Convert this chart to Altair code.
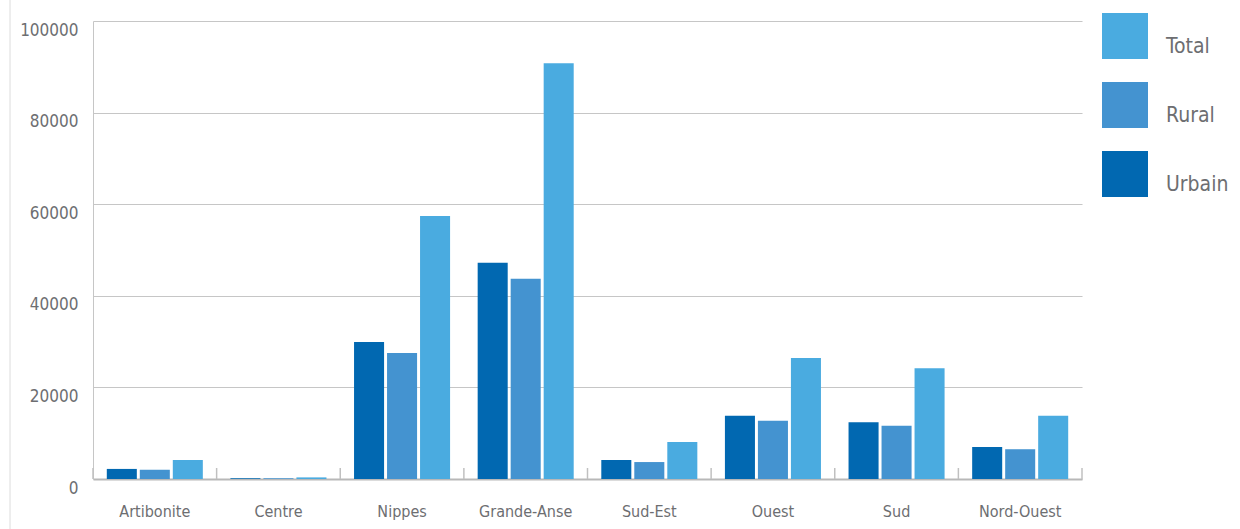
import altair as alt
import pandas as pd

# Departments shown along the x axis
departements = ["Artibonite", "Centre", "Nippes", "Grande-Anse",
                "Sud-Est", "Ouest", "Sud", "Nord-Ouest"]

# Values per department for each series
urbain = [2200, 150, 29900, 47200, 4150, 13800, 12400, 7000]
rural = [2000, 150, 27500, 43700, 3700, 12700, 11600, 6500]
total = [4150, 350, 57400, 90800, 8100, 26400, 24200, 13800]

series = ["Urbain", "Rural", "Total"]
colors = ["#0168B1", "#4493D0", "#4AABE0"]
y_ticks = [0, 20000, 40000, 60000, 80000, 100000]

FONT = "DejaVu Sans Condensed, Liberation Sans Narrow, sans-serif"
TEXT = "#6d6e71"
W, H = 989, 458

rows = []
for name, vals in zip(series, [urbain, rural, total]):
    for d, v in zip(departements, vals):
        rows.append({"departement": d, "serie": name, "valeur": v})
df = pd.DataFrame(rows)

x_scale = alt.Scale(domain=departements, paddingInner=0, paddingOuter=0)
x_axis = alt.Axis(title=None, labelAngle=0, ticks=False, grid=False,
                  domain=True, domainColor="#b8b8b8", domainWidth=2,
                  labelFont=FONT, labelFontSize=16, labelColor=TEXT,
                  labelPadding=24)

bars = alt.Chart(df).mark_bar().encode(
    x=alt.X("departement:N", scale=x_scale, sort=departements, axis=x_axis),
    xOffset=alt.XOffset("serie:N", sort=series,
                        scale=alt.Scale(domain=series, paddingInner=0.09,
                                        paddingOuter=0.418)),
    y=alt.Y("valeur:Q",
            scale=alt.Scale(domain=[0, 100000], nice=False),
            axis=alt.Axis(title=None, values=y_ticks, format="d",
                          ticks=False, domain=True, domainColor="#c6c6c6",
                          grid=True, gridColor="#c6c6c6", gridWidth=1.2,
                          labelFont=FONT, labelFontSize=17, labelColor=TEXT,
                          labelPadding=15, labelOffset=9)),
    color=alt.Color("serie:N",
                    scale=alt.Scale(domain=series, range=colors),
                    legend=alt.Legend(title=None, values=["Total", "Rural", "Urbain"],
                                      orient="none", legendX=1009, legendY=-8,
                                      symbolType="square", symbolSize=2116,
                                      symbolStrokeWidth=0, symbolOpacity=1,
                                      rowPadding=23, padding=0,
                                      labelFont=FONT, labelFontSize=21,
                                      labelBaseline="top",
                                      labelColor=TEXT, labelOffset=18)),
)

# Separators at the start of each department group, rising from the baseline
sep_df = pd.DataFrame({"departement": departements})
seps = alt.Chart(sep_df).mark_rule(color="#c0c0c0", strokeWidth=1.5).encode(
    x=alt.X("departement:N", sort=departements, bandPosition=0, axis=x_axis),
    y=alt.value(H),
    y2=alt.value(H - 11),
)
# Closing separator after the last group
end_sep = alt.Chart(sep_df.tail(1)).mark_rule(color="#c0c0c0", strokeWidth=1.5).encode(
    x=alt.X("departement:N", sort=departements, bandPosition=1, axis=x_axis),
    y=alt.value(H),
    y2=alt.value(H - 11),
)

# Thin frame line at the far left of the page
frame = alt.Chart(sep_df.head(1)).mark_rule(color="#dcdcdc", strokeWidth=1).encode(
    x=alt.value(-83),
    y=alt.value(-21),
    y2=alt.value(H + 50),
)

chart = alt.layer(frame, bars, seps, end_sep).properties(
    width=W, height=H,
    background="white",
    autosize=alt.AutoSizeParams(type="none"),
    padding={"left": 93, "top": 21, "right": 158, "bottom": 50},
).configure_view(strokeWidth=0, stroke=None)

chart.save("out.html", embed_options={"renderer": "svg", "actions": False})
